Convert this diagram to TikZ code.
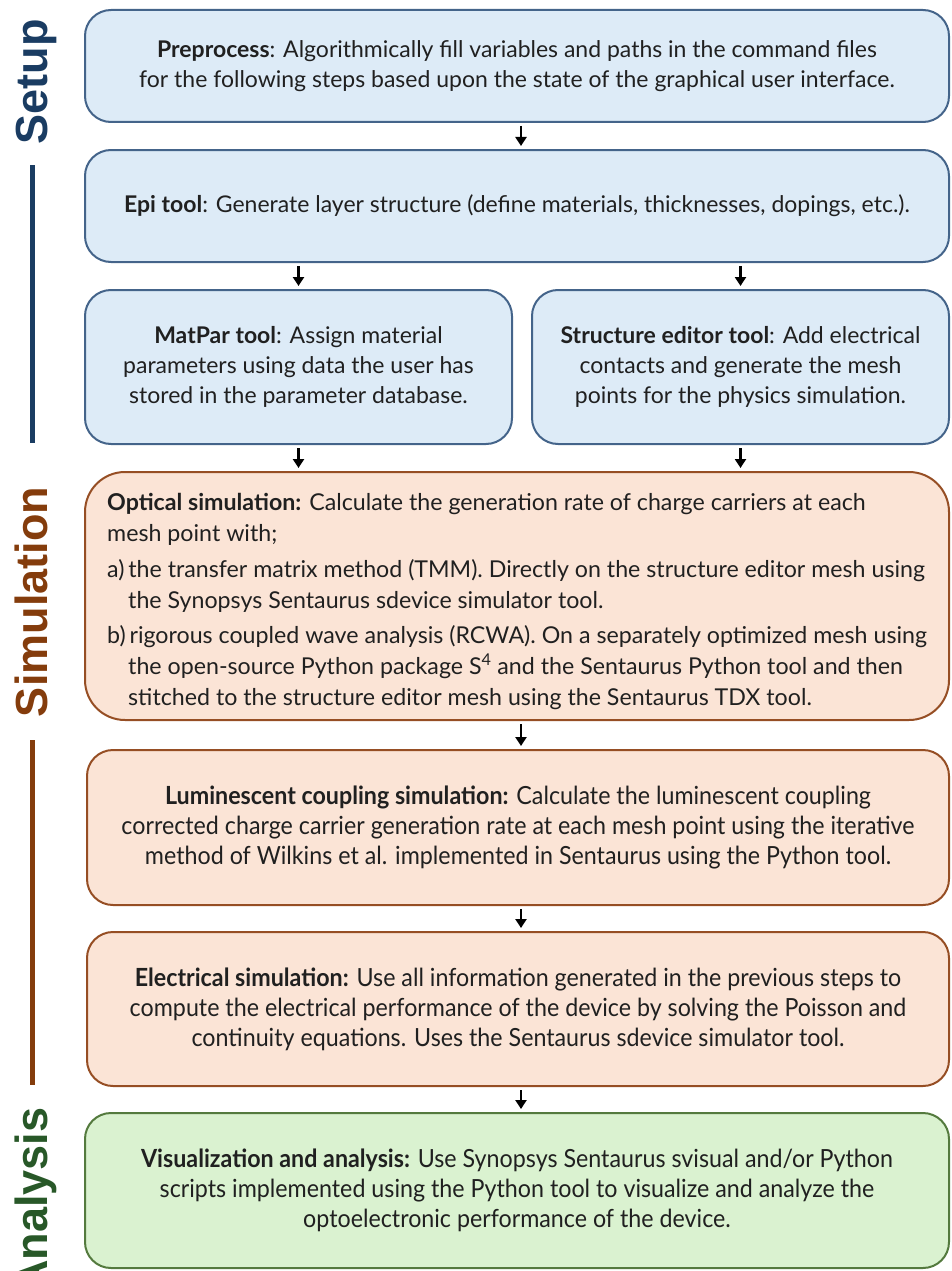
\documentclass[tikz,border=0pt]{standalone}
\usepackage{fontspec}
\setmainfont{Lato}
\newfontfamily\labelfont{Liberation Sans}
\newfontfamily\narrowfont[FakeStretch=0.93]{Lato}
\usetikzlibrary{arrows.meta}
\definecolor{bluefill}{RGB}{221,235,247}
\definecolor{blueline}{RGB}{68,100,138}
\definecolor{orfill}{RGB}{251,228,214}
\definecolor{orline}{RGB}{150,78,36}
\definecolor{grfill}{RGB}{218,242,208}
\definecolor{grline}{RGB}{84,122,62}
\definecolor{setupc}{RGB}{26,60,98}
\definecolor{simc}{RGB}{132,60,12}
\definecolor{anac}{RGB}{40,88,40}
\definecolor{txt}{RGB}{32,32,32}
\tikzset{
  box/.style={draw, line width=2pt, rounded corners=26pt, align=center, text=txt,
    inner sep=0pt, font=\fontsize{23}{30}\selectfont},
  bluebox/.style={box, draw=blueline, fill=bluefill},
  orbox/.style={box, draw=orline, fill=orfill},
  grbox/.style={box, draw=grline, fill=grfill},
  narrow/.style={font=\narrowfont\fontsize{25}{30}\selectfont},
  arr/.style={line width=2.6pt, -{Triangle[width=11pt,length=9pt]}, shorten <=3pt, shorten >=3pt},
  sect/.style={rotate=90, anchor=base, font=\labelfont\bfseries\fontsize{45}{45}\selectfont},
  sectline/.style={line width=5pt}
}
\begin{document}
\begin{tikzpicture}[x=1pt,y=-1pt]
\useasboundingbox (0,0) rectangle (951,1271);

% section labels
\node[sect, text=setupc] (lsetup) at (47,82) {Setup};
\node[sect, text=simc] (lsim) at (47,602) {Simulation};
\node[sect, text=anac] (lana) at (47,1200) {Analysis};
\draw[sectline, setupc] (32,165) -- (32,443);
\draw[sectline, simc] (32,740) -- (32,1085);

% boxes
\node[bluebox, minimum width=864pt, minimum height=112pt] (pre) at (517,66)
  {\textbf{Preprocess}: Algorithmically fill variables and paths in the command files\\
   for the following steps based upon the state of the graphical user interface.};
\node[bluebox, minimum width=864pt, minimum height=112pt] (epi) at (517,206)
  {\textbf{Epi tool}: Generate layer structure (define materials, thicknesses, dopings, etc.).};
\node[bluebox, minimum width=427pt, minimum height=154pt] (mat) at (298.5,367)
  {\textbf{MatPar tool}: Assign material\\parameters using data the user has\\stored in the parameter database.};
\node[bluebox, minimum width=417pt, minimum height=154pt] (str) at (740.5,367)
  {\textbf{Structure editor tool}: Add electrical\\contacts and generate the mesh\\points for the physics simulation.};
\node[orbox, rounded corners=40pt, minimum width=864pt, minimum height=248pt] (opt) at (517,596) {};
\node[anchor=north west, align=left, text=txt, inner sep=0pt, font=\fontsize{23.2}{31}\selectfont] (opttxt) at (107,493)
  {\textbf{Optical simulation:} Calculate the generation rate of charge carriers at each\\
   mesh point with;\\[5pt]
   a)\,the transfer matrix method (TMM). Directly on the structure editor mesh using\\
   \hspace*{21pt}the Synopsys Sentaurus sdevice simulator tool.\\[4pt]
   b)\,rigorous coupled wave analysis (RCWA). On a separately optimized mesh using\\
   \hspace*{21pt}the open-source Python package S\textsuperscript{4} and the Sentaurus Python tool and then\\
   \hspace*{21pt}stitched to the structure editor mesh using the Sentaurus TDX tool.};
\node[orbox, narrow, minimum width=862pt, minimum height=155pt] (lum) at (518,827.5)
  {\textbf{Luminescent coupling simulation:} Calculate the luminescent coupling\\
   corrected charge carrier generation rate at each mesh point using the iterative\\
   method of Wilkins et al. implemented in Sentaurus using the Python tool.};
\node[orbox, narrow, minimum width=862pt, minimum height=154pt] (ele) at (518,1009)
  {\textbf{Electrical simulation:} Use all information generated in the previous steps to\\
   compute the electrical performance of the device by solving the Poisson and\\
   continuity equations. Uses the Sentaurus sdevice simulator tool.};
\node[grbox, narrow, minimum width=864pt, minimum height=155pt] (vis) at (517,1190.5)
  {\textbf{Visualization and analysis:} Use Synopsys Sentaurus svisual and/or Python\\
   scripts implemented using the Python tool to visualize and analyze the\\
   optoelectronic performance of the device.};

% arrows
\draw[arr] ([xshift=4pt]pre.south) -- ([xshift=4pt]epi.north);
\draw[arr] (mat.north |- epi.south) -- (mat.north);
\draw[arr] (str.north |- epi.south) -- (str.north);
\draw[arr] (mat.south) -- (mat.south |- opt.north);
\draw[arr] (str.south) -- (str.south |- opt.north);
\draw[arr] ([xshift=4pt]opt.south) -- ([xshift=4pt]opt.south |- lum.north);
\draw[arr] ([xshift=3pt]lum.south) -- ([xshift=3pt]ele.north);
\draw[arr] ([xshift=3pt]ele.south) -- ([xshift=4pt]vis.north);
\end{tikzpicture}
\end{document}
